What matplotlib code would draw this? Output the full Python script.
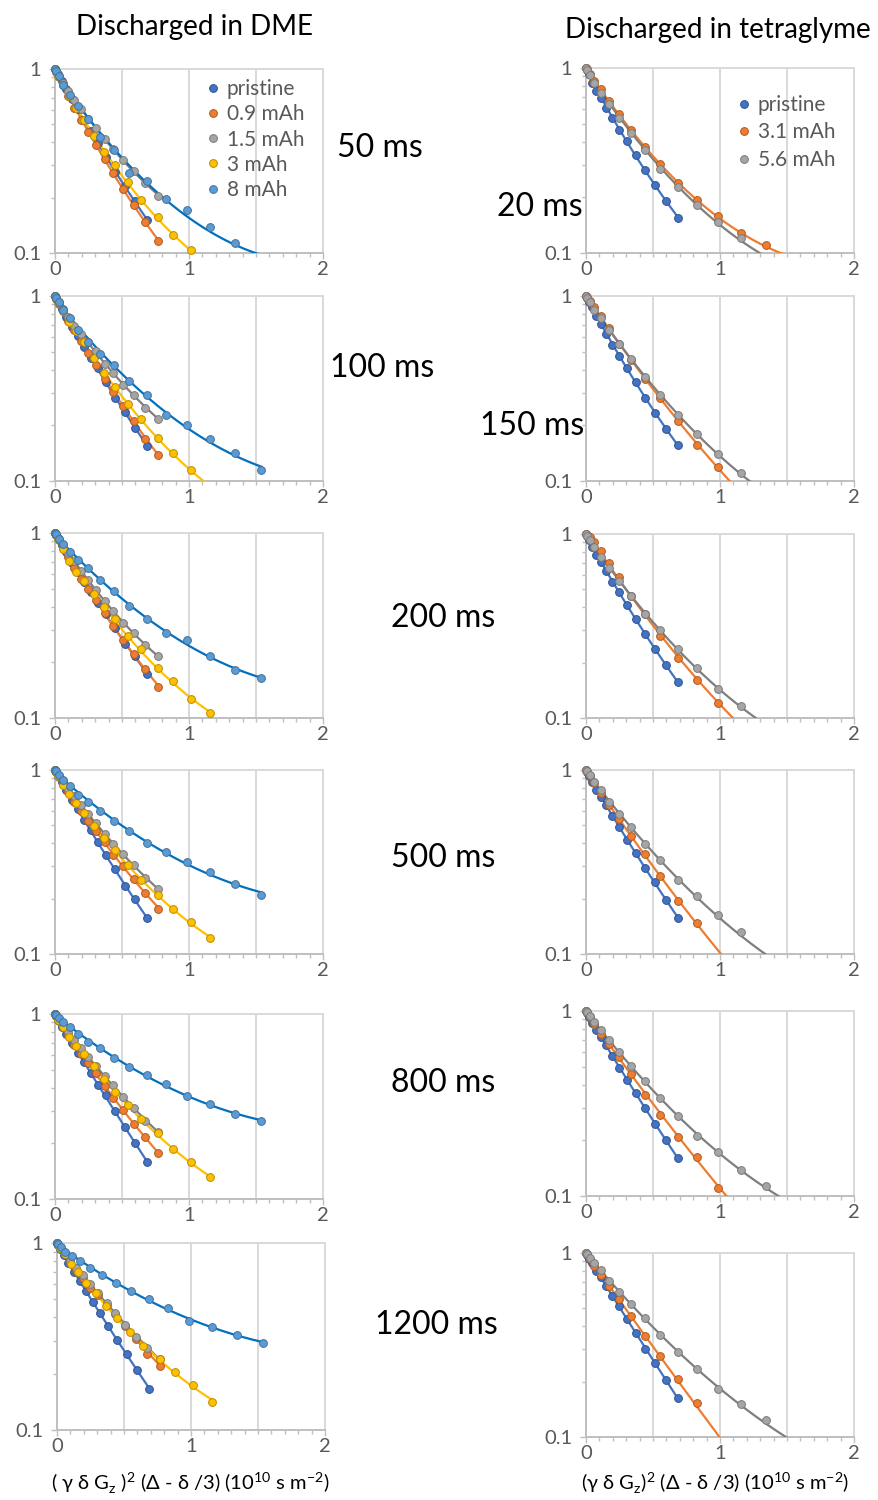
import numpy as np
import matplotlib
matplotlib.use("Agg")
import matplotlib.pyplot as plt
from matplotlib.lines import Line2D
from matplotlib.ticker import FixedLocator, MultipleLocator, NullFormatter

plt.rcParams['font.family'] = ['Lato', 'DejaVu Sans']
plt.rcParams['mathtext.fontset'] = 'custom'
plt.rcParams['mathtext.rm'] = 'Lato'

# ---------------- data ----------------
# x = (gamma delta Gz)^2 (Delta - delta/3) in 1e10 s m^-2, y = normalised echo
dme_labels = ["pristine", "0.9 mAh", "1.5 mAh", "3 mAh", "8 mAh"]
tg_labels = ["pristine", "3.1 mAh", "5.6 mAh"]

x_dme_pristine = [0, 0.008, 0.022, 0.05, 0.083, 0.125, 0.17, 0.215, 0.265, 0.32, 0.383, 0.45, 0.52, 0.595, 0.69]
x_dme_09 = [0, 0.01, 0.03, 0.06, 0.1, 0.145, 0.195, 0.25, 0.305, 0.37, 0.435, 0.51, 0.59, 0.675, 0.77]
x_dme_15 = x_dme_09
x_dme_3 = [0, 0.008, 0.025, 0.062, 0.107, 0.158, 0.215, 0.288, 0.365, 0.445, 0.545, 0.645, 0.765, 0.878, 1.012, 1.153]
x_dme_8 = [0, 0.007, 0.027, 0.062, 0.11, 0.171, 0.246, 0.335, 0.438, 0.554, 0.684, 0.828, 0.986, 1.157, 1.34, 1.54]

x_tg_pristine = [0, 0.008, 0.022, 0.042, 0.075, 0.112, 0.149, 0.197, 0.249, 0.308, 0.371, 0.443, 0.517, 0.597, 0.684]
x_tg_31 = [0, 0.007, 0.027, 0.062, 0.11, 0.171, 0.246, 0.335, 0.438, 0.554, 0.684, 0.828, 0.986, 1.157, 1.34, 1.54]
x_tg_56 = x_tg_31

# DME panels: [pristine, 0.9 mAh, 1.5 mAh, 3 mAh, 8 mAh]
dme_50ms = [
    [1, 0.975, 0.935, 0.859, 0.778, 0.687, 0.603, 0.528, 0.459, 0.394, 0.331, 0.277, 0.23, 0.191, 0.151],
    [1, 0.966, 0.904, 0.817, 0.716, 0.61, 0.53, 0.454, 0.386, 0.324, 0.272, 0.223, 0.182, 0.147, 0.116],
    [1, 0.971, 0.916, 0.843, 0.759, 0.676, 0.603, 0.535, 0.476, 0.418, 0.368, 0.32, 0.278, 0.24, 0.204],
    [1, 0.973, 0.92, 0.818, 0.71, 0.61, 0.525, 0.432, 0.355, 0.299, 0.244, 0.194, 0.157, 0.126, 0.104, 0.085],
    [1, 0.98, 0.912, 0.822, 0.72, 0.627, 0.537, 0.427, 0.363, 0.272, 0.247, 0.196, 0.172, 0.138, 0.113, 0.091],
]
dme_100ms = [
    [1, 0.975, 0.933, 0.855, 0.773, 0.679, 0.605, 0.532, 0.465, 0.407, 0.342, 0.28, 0.237, 0.194, 0.154],
    [1, 0.968, 0.908, 0.826, 0.735, 0.653, 0.573, 0.493, 0.426, 0.357, 0.302, 0.254, 0.211, 0.168, 0.139],
    [1, 0.973, 0.923, 0.851, 0.767, 0.689, 0.624, 0.562, 0.504, 0.431, 0.382, 0.332, 0.292, 0.248, 0.217],
    [1, 0.975, 0.923, 0.826, 0.724, 0.646, 0.562, 0.462, 0.382, 0.321, 0.261, 0.215, 0.171, 0.142, 0.115, 0.093],
    [1, 0.98, 0.93, 0.84, 0.757, 0.653, 0.565, 0.488, 0.422, 0.349, 0.29, 0.227, 0.201, 0.168, 0.141, 0.114],
]
dme_200ms = [
    [1, 0.977, 0.937, 0.863, 0.785, 0.687, 0.617, 0.546, 0.481, 0.417, 0.363, 0.308, 0.251, 0.215, 0.173],
    [1, 0.971, 0.912, 0.834, 0.741, 0.649, 0.562, 0.499, 0.433, 0.369, 0.316, 0.264, 0.221, 0.183, 0.148],
    [1, 0.975, 0.927, 0.859, 0.78, 0.702, 0.625, 0.555, 0.49, 0.427, 0.378, 0.327, 0.288, 0.248, 0.215],
    [1, 0.975, 0.923, 0.817, 0.705, 0.618, 0.55, 0.468, 0.396, 0.341, 0.277, 0.236, 0.186, 0.158, 0.127, 0.107],
    [1, 0.982, 0.933, 0.871, 0.794, 0.714, 0.643, 0.558, 0.484, 0.405, 0.344, 0.288, 0.263, 0.216, 0.182, 0.164],
]
dme_500ms = [
    [1, 0.975, 0.931, 0.857, 0.78, 0.689, 0.611, 0.533, 0.47, 0.404, 0.346, 0.288, 0.234, 0.198, 0.156],
    [1, 0.973, 0.918, 0.843, 0.755, 0.67, 0.596, 0.525, 0.468, 0.404, 0.347, 0.302, 0.255, 0.215, 0.176],
    [1, 0.977, 0.931, 0.867, 0.792, 0.718, 0.646, 0.575, 0.514, 0.449, 0.394, 0.348, 0.304, 0.259, 0.226],
    [1, 0.975, 0.927, 0.832, 0.741, 0.661, 0.586, 0.499, 0.427, 0.368, 0.305, 0.253, 0.21, 0.175, 0.15, 0.122],
    [1, 0.986, 0.94, 0.877, 0.817, 0.735, 0.67, 0.6, 0.531, 0.467, 0.399, 0.359, 0.316, 0.279, 0.24, 0.21],
]
dme_800ms = [
    [1, 0.975, 0.933, 0.855, 0.776, 0.7, 0.618, 0.547, 0.48, 0.411, 0.363, 0.299, 0.245, 0.2, 0.158],
    [1, 0.973, 0.92, 0.847, 0.767, 0.684, 0.608, 0.543, 0.48, 0.406, 0.351, 0.302, 0.254, 0.216, 0.177],
    [1, 0.977, 0.933, 0.871, 0.8, 0.728, 0.653, 0.583, 0.522, 0.461, 0.413, 0.355, 0.31, 0.264, 0.231],
    [1, 0.977, 0.931, 0.847, 0.755, 0.675, 0.607, 0.525, 0.447, 0.378, 0.321, 0.27, 0.226, 0.186, 0.158, 0.132],
    [1, 0.989, 0.955, 0.908, 0.855, 0.776, 0.708, 0.652, 0.575, 0.516, 0.469, 0.417, 0.361, 0.326, 0.288, 0.265],
]
dme_1200ms = [
    [1, 0.975, 0.933, 0.859, 0.782, 0.7, 0.625, 0.553, 0.486, 0.422, 0.361, 0.303, 0.254, 0.209, 0.166],
    [1, 0.977, 0.931, 0.869, 0.794, 0.721, 0.646, 0.578, 0.525, 0.465, 0.417, 0.359, 0.308, 0.254, 0.221],
    [1, 0.977, 0.933, 0.875, 0.804, 0.735, 0.671, 0.601, 0.54, 0.478, 0.42, 0.366, 0.316, 0.275, 0.239],
    [1, 0.977, 0.938, 0.869, 0.776, 0.7, 0.613, 0.542, 0.463, 0.396, 0.333, 0.283, 0.24, 0.204, 0.175, 0.142],
    [1, 0.989, 0.955, 0.897, 0.857, 0.802, 0.738, 0.673, 0.612, 0.551, 0.499, 0.449, 0.385, 0.356, 0.324, 0.292],
]

# tetraglyme panels: [pristine, 3.1 mAh, 5.6 mAh]
tg_20ms = [
    [1, 0.973, 0.929, 0.826, 0.755, 0.686, 0.608, 0.537, 0.465, 0.401, 0.338, 0.282, 0.233, 0.191, 0.155],
    [1, 0.982, 0.931, 0.855, 0.767, 0.665, 0.562, 0.46, 0.373, 0.301, 0.238, 0.193, 0.158, 0.129, 0.111, 0.093],
    [1, 0.979, 0.918, 0.832, 0.736, 0.637, 0.537, 0.446, 0.361, 0.286, 0.228, 0.181, 0.148, 0.12, 0.098, 0.078],
]
tg_150ms = [
    [1, 0.973, 0.927, 0.867, 0.776, 0.703, 0.627, 0.545, 0.473, 0.407, 0.345, 0.281, 0.234, 0.191, 0.156],
    [1, 0.984, 0.944, 0.875, 0.78, 0.668, 0.552, 0.451, 0.355, 0.281, 0.212, 0.157, 0.119, 0.087, 0.063, 0.045],
    [1, 0.979, 0.927, 0.841, 0.762, 0.653, 0.552, 0.457, 0.363, 0.292, 0.228, 0.18, 0.14, 0.111, 0.087, 0.068],
]
tg_200ms = [
    [1, 0.973, 0.923, 0.851, 0.771, 0.703, 0.627, 0.551, 0.482, 0.41, 0.347, 0.286, 0.236, 0.194, 0.156],
    [1, 0.989, 0.959, 0.902, 0.813, 0.695, 0.581, 0.463, 0.369, 0.278, 0.211, 0.16, 0.121, 0.091, 0.069, 0.05],
    [1, 0.979, 0.931, 0.851, 0.753, 0.653, 0.558, 0.463, 0.369, 0.302, 0.236, 0.186, 0.144, 0.116, 0.093, 0.074],
]
tg_500ms = [
    [1, 0.973, 0.927, 0.865, 0.776, 0.71, 0.646, 0.56, 0.49, 0.419, 0.353, 0.292, 0.245, 0.197, 0.157],
    [1, 0.979, 0.929, 0.847, 0.75, 0.649, 0.543, 0.437, 0.351, 0.266, 0.195, 0.148, 0.097, 0.078, 0.054, 0.035],
    [1, 0.982, 0.938, 0.865, 0.776, 0.673, 0.574, 0.488, 0.395, 0.323, 0.254, 0.206, 0.163, 0.132, 0.093, 0.081],
]
tg_800ms = [
    [1, 0.973, 0.923, 0.863, 0.787, 0.724, 0.653, 0.569, 0.494, 0.425, 0.361, 0.298, 0.245, 0.2, 0.16],
    [1, 0.982, 0.933, 0.851, 0.755, 0.661, 0.562, 0.457, 0.351, 0.275, 0.209, 0.162, 0.111, 0.083, 0.058, 0.038],
    [1, 0.982, 0.94, 0.871, 0.794, 0.697, 0.6, 0.507, 0.419, 0.337, 0.272, 0.211, 0.172, 0.139, 0.113, 0.089],
]
tg_1200ms = [
    [1, 0.975, 0.933, 0.879, 0.8, 0.736, 0.661, 0.586, 0.513, 0.437, 0.366, 0.302, 0.251, 0.205, 0.162],
    [1, 0.982, 0.933, 0.855, 0.759, 0.664, 0.562, 0.457, 0.356, 0.275, 0.207, 0.153, 0.093, 0.071, 0.047, 0.03],
    [1, 0.984, 0.944, 0.881, 0.809, 0.708, 0.617, 0.531, 0.442, 0.357, 0.291, 0.233, 0.183, 0.151, 0.124, 0.092],
]

# ---------------- styles ----------------
fill = {"pristine": "#4472C4", "0.9 mAh": "#ED7D31", "1.5 mAh": "#A5A5A5", "3 mAh": "#FFC000",
        "8 mAh": "#5B9BD5", "3.1 mAh": "#ED7D31", "5.6 mAh": "#A5A5A5"}
edge = {"pristine": "#2F528F", "0.9 mAh": "#B05A1E", "1.5 mAh": "#7A7A7A", "3 mAh": "#BA8C00",
        "8 mAh": "#41719C", "3.1 mAh": "#B05A1E", "5.6 mAh": "#7A7A7A"}
fitc = {"pristine": "#4472C4", "0.9 mAh": "#ED7D31", "1.5 mAh": "#7F7F7F", "3 mAh": "#FFC000",
        "8 mAh": "#0070C0", "3.1 mAh": "#ED7D31", "5.6 mAh": "#7F7F7F"}

TICK_GREY = "#595959"
GRID = "#D9D9D9"
AXIS = "#BFBFBF"
MS = 5.6

W, H = 879, 1500
fig = plt.figure(figsize=(W / 100, H / 100), dpi=100)


def px_axes(x0, x1, top, bot):
    return fig.add_axes([x0 / W, 1 - bot / H, (x1 - x0) / W, (bot - top) / H])


def draw_panel(ax, xs, ys, labels):
    for x, y, lab in zip(xs, ys, labels):
        x = np.array(x)
        y = np.array(y)
        # trend line: quadratic fit of log(y)
        c = np.polyfit(x, np.log10(y), 2)
        xf = np.linspace(0, x[-1], 200)
        ax.plot(xf, 10 ** np.polyval(c, xf), color=fitc[lab], lw=1.6, zorder=3)
        keep = y >= 0.1
        ax.plot(x[keep], y[keep], "o", ms=MS, mfc=fill[lab], mec=edge[lab], mew=0.7,
                zorder=4, clip_on=False)

    ax.set_yscale("log")
    ax.set_xlim(0, 2)
    ax.set_ylim(0.1, 1)
    for xv in [0.5, 1, 1.5, 2]:
        ax.axvline(xv, color=GRID, lw=1.4, zorder=0, clip_on=False)
    ax.axhline(1, color=GRID, lw=1.4, zorder=0, clip_on=False)

    ax.set_yticks([0.1, 1])
    ax.set_yticklabels(["0.1", "1"])
    ax.yaxis.set_minor_locator(FixedLocator([0.2, 0.3, 0.4, 0.5, 0.6, 0.7, 0.8, 0.9]))
    ax.yaxis.set_minor_formatter(NullFormatter())
    ax.set_xticks([0, 1, 2])
    ax.set_xticklabels(["0", "1", "2"])
    ax.xaxis.set_minor_locator(MultipleLocator(0.1))

    for s in ["top", "right"]:
        ax.spines[s].set_visible(False)
    for s in ["left", "bottom"]:
        ax.spines[s].set_color(AXIS)
        ax.spines[s].set_linewidth(1.4)
    ax.tick_params(which="both", color=AXIS, direction="out", width=1)
    ax.tick_params(which="major", length=4, labelsize=14.5, labelcolor=TICK_GREY)
    ax.tick_params(axis="y", which="major", pad=6)
    ax.tick_params(axis="x", which="major", pad=2)
    ax.tick_params(which="minor", length=3)


dme_panels = [dme_50ms, dme_100ms, dme_200ms, dme_500ms, dme_800ms, dme_1200ms]
tg_panels = [tg_20ms, tg_150ms, tg_200ms, tg_500ms, tg_800ms, tg_1200ms]
x_dme = [x_dme_pristine, x_dme_09, x_dme_15, x_dme_3, x_dme_8]
x_tg = [x_tg_pristine, x_tg_31, x_tg_56]

left_rows = [(69, 253), (296, 481), (533, 718), (770, 954), (1014, 1199), (1243, 1430)]
right_rows = [(68, 253), (296, 481), (534, 718), (770, 954), (1011, 1196), (1253, 1437)]

axes_l, axes_r = [], []
for i, (top, bot) in enumerate(left_rows):
    x0 = 57 if i == 5 else 55
    ax = px_axes(x0, x0 + 268, top, bot)
    draw_panel(ax, x_dme, dme_panels[i], dme_labels)
    axes_l.append(ax)
for i, (top, bot) in enumerate(right_rows):
    ax = px_axes(586, 854, top, bot)
    draw_panel(ax, x_tg, tg_panels[i], tg_labels)
    axes_r.append(ax)


# legends
def legend(ax, labels, anchor, spacing):
    handles = [Line2D([], [], ls="none", marker="o", ms=MS, mfc=fill[l], mec=edge[l], mew=0.7)
               for l in labels]
    leg = ax.legend(handles, labels, loc="upper left", bbox_to_anchor=anchor, frameon=False,
                    handlelength=0.5, handletextpad=0.4, labelspacing=spacing, borderpad=0,
                    borderaxespad=0, fontsize=15)
    for t in leg.get_texts():
        t.set_color(TICK_GREY)


legend(axes_l[0], dme_labels, (0.57, 0.945), 0.25)
legend(axes_r[0], tg_labels, (0.57, 0.855), 0.36)

# titles and delay labels
fig.text(195 / W, 1 - 27 / H, "Discharged in DME", fontsize=20, ha="center", va="center")
fig.text(718 / W, 1 - 30 / H, "Discharged in tetraglyme", fontsize=20, ha="center", va="center")

delays = [("50 ms", 380, 148), ("20 ms", 540, 207), ("100 ms", 382, 368), ("150 ms", 532, 426),
          ("200 ms", 443, 618), ("500 ms", 443, 858), ("800 ms", 443, 1083), ("1200 ms", 436, 1325)]
for txt, xp, yp in delays:
    fig.text(xp / W, 1 - yp / H, txt, fontsize=23, ha="center", va="center")

fig.text(190 / W, 1 - 1483 / H,
         r"( γ δ G$_\mathregular{z}$ )$^\mathregular{2}$ (Δ - δ /3) (10$^\mathregular{10}$ s m$^\mathregular{-2}$)",
         fontsize=14.5, ha="center", va="center")
fig.text(715 / W, 1 - 1483 / H,
         r"(γ δ G$_\mathregular{z}$)$^\mathregular{2}$ (Δ - δ /3) (10$^\mathregular{10}$ s m$^\mathregular{-2}$)",
         fontsize=14.5, ha="center", va="center")

fig.savefig("out.png", dpi=100)
